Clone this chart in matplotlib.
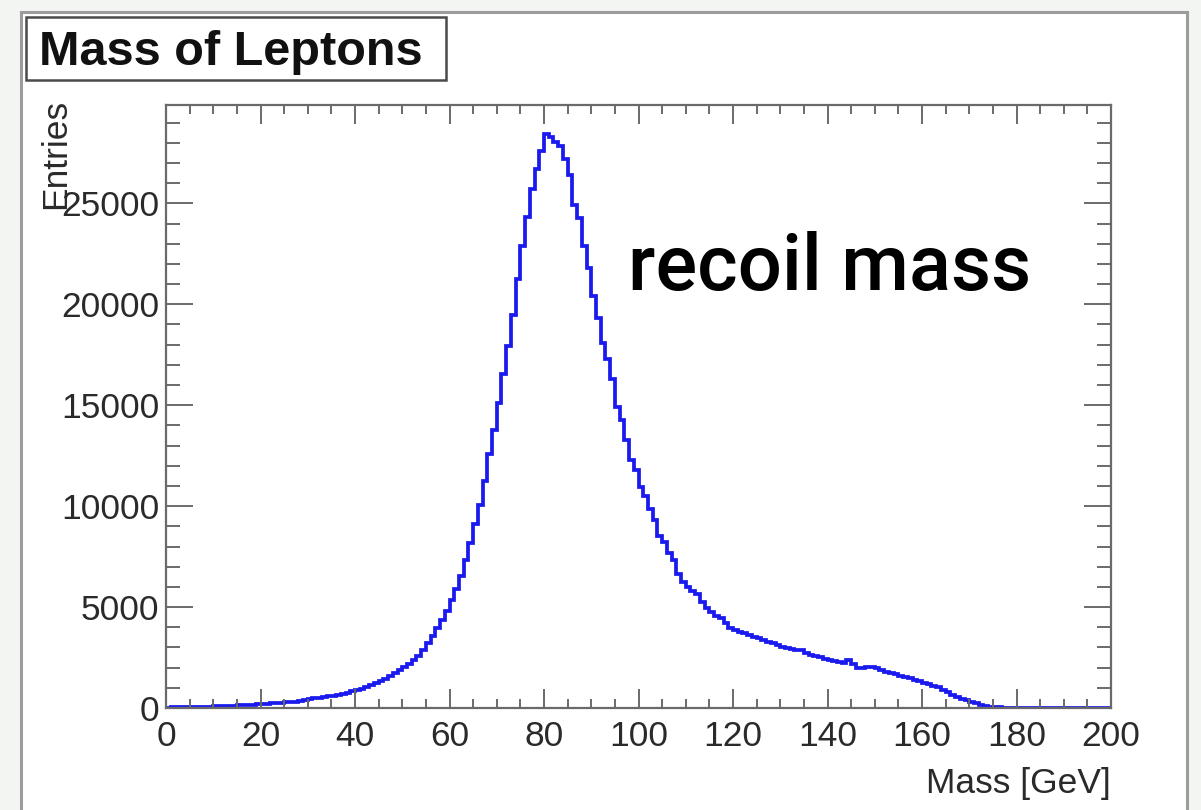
import matplotlib
matplotlib.use("Agg")
import matplotlib.pyplot as plt
from matplotlib.patches import Rectangle
import numpy as np

plt.rcParams['font.family'] = ['Liberation Sans', 'DejaVu Sans']

# histogram: 200 bins of 1 GeV from 0 to 200
bin_lo = 0
bin_hi = 200
counts = [
    20, 25, 30, 35, 40, 45, 50, 55, 65, 70,                      # 0-9
    80, 85, 95, 105, 115, 125, 140, 150, 165, 180,               # 10-19
    200, 215, 230, 245, 260, 280, 300, 320, 345, 395,            # 20-29
    450, 480, 510, 540, 575, 610, 650, 700, 760, 820,            # 30-39
    890, 960, 1040, 1120, 1220, 1320, 1450, 1580, 1750, 1900,    # 40-49
    2050, 2200, 2370, 2600, 2880, 3200, 3550, 3950, 4350, 4800,  # 50-59
    5350, 5900, 6550, 7350, 8150, 9100, 10050, 11250, 12600, 13750,      # 60-69
    15100, 16550, 17950, 19450, 21250, 22900, 24300, 25700, 26700, 27600,  # 70-79
    28450, 28300, 28050, 27850, 27200, 26400, 24900, 24250, 22900, 21800,  # 80-89
    20400, 19300, 18100, 17300, 16300, 14900, 14250, 13300, 12300, 11800,  # 90-99
    10950, 10500, 9850, 9300, 8500, 8200, 7700, 7350, 6650, 6250,        # 100-109
    6000, 5800, 5650, 5250, 4950, 4750, 4550, 4450, 4200, 3980,  # 110-119
    3850, 3780, 3700, 3600, 3500, 3450, 3350, 3250, 3200, 3100,  # 120-129
    3030, 2980, 2920, 2870, 2850, 2700, 2620, 2580, 2520, 2450,  # 130-139
    2400, 2350, 2300, 2240, 2400, 2180, 2000, 1980, 2040, 2030,  # 140-149
    1960, 1880, 1800, 1740, 1700, 1600, 1560, 1480, 1400, 1320,  # 150-159
    1250, 1180, 1100, 1020, 900, 780, 660, 560, 470, 380,        # 160-169
    300, 230, 170, 110, 70, 40, 25, 15, 10, 8,                   # 170-179
    6, 5, 5, 4, 4, 3, 3, 3, 2, 2,                                # 180-189
    2, 2, 1, 1, 1, 1, 1, 0, 0, 0,                                # 190-199
]
edges = np.linspace(bin_lo, bin_hi, len(counts) + 1)

title = "Mass of Leptons"
xlabel = "Mass [GeV]"
ylabel = "Entries"
note = "recoil mass"

W, H = 1201, 810
fig = plt.figure(figsize=(W / 100, H / 100), dpi=100)
fig.patch.set_facecolor('#f3f5f3')

def fx(px):
    return px / W

def fy(py):
    return 1 - py / H

# canvas window (behind everything)
fig.patches.append(Rectangle((fx(21), fy(830)), fx(1187) - fx(21), fy(12) - fy(830),
                             transform=fig.transFigure, facecolor='white',
                             edgecolor='#9c9c9c', lw=2.2, zorder=-10))

ax = fig.add_axes([fx(166), fy(708), fx(1111) - fx(166), fy(105) - fy(708)])
ax.set_zorder(2)
ax.patch.set_alpha(0)
ax.stairs(counts, edges, color='#1a1aee', lw=2.7)

ax.set_xlim(bin_lo, bin_hi)
ax.set_ylim(0, max(counts) * 1.05)
ax.set_xticks(np.arange(0, 201, 20))
ax.set_xticks(np.arange(0, 201, 5), minor=True)
ax.set_yticks(np.arange(0, 25001, 5000))
ax.set_yticks(np.arange(0, 29001, 1000), minor=True)

for s in ax.spines.values():
    s.set_color('#6a6a6a')
    s.set_linewidth(1.6)
ax.tick_params(which='both', direction='in', top=True, right=True,
               color='#6a6a6a', width=1.4, labelcolor='#2a2a2a', labelsize=25.5)
ax.tick_params(axis='x', which='major', length=13.5, pad=9)
ax.tick_params(axis='x', which='minor', length=6.5)
ax.tick_params(axis='y', which='major', length=19.5, pad=5)
ax.tick_params(axis='y', which='minor', length=10)

ax.set_xlabel(xlabel, fontsize=25.5, color='#2a2a2a', loc='right', labelpad=10)
ax.set_ylabel(ylabel, fontsize=25.5, color='#2a2a2a', loc='top', labelpad=-8)
ax.yaxis.label.set_y(1.01)

ax.text(97.8, 20700, note, fontsize=56, fontfamily=['Roboto', 'DejaVu Sans'],
        fontweight='medium', color='black', va='baseline', ha='left')

# title box
fig.patches.append(Rectangle((fx(26), fy(80)), fx(446) - fx(26), fy(17) - fy(80),
                             transform=fig.transFigure, facecolor='white',
                             edgecolor='#4a4a4a', lw=1.8, zorder=1))
fig.text(fx(39), fy(65), title, fontsize=35, fontweight='bold', color='#111111',
         va='baseline', ha='left')

fig.savefig('out.png', dpi=100, facecolor=fig.get_facecolor())
